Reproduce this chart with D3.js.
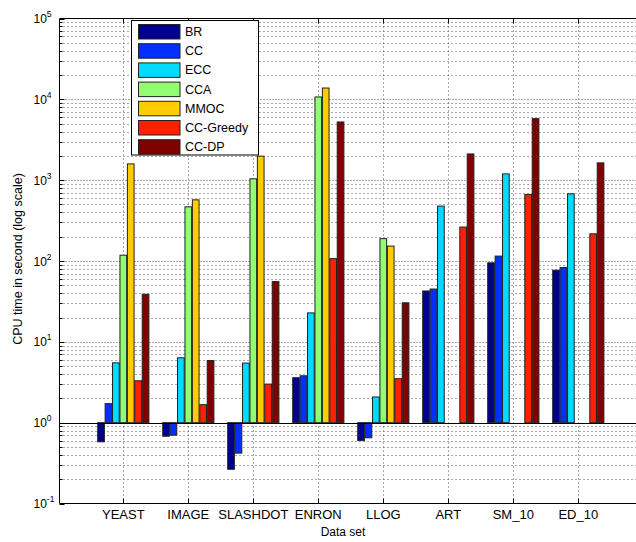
<!DOCTYPE html>
<html><head><meta charset="utf-8">
<script src="https://cdn.jsdelivr.net/npm/d3@7"></script>
<style>
html,body{margin:0;padding:0;background:#fff;}
svg{display:block;}
text{font-family:"Liberation Sans",Arial,Helvetica,sans-serif;fill:#000;}
</style></head>
<body>
<script>
const categories = ["YEAST","IMAGE","SLASHDOT","ENRON","LLOG","ART","SM_10","ED_10"];
const seriesNames = ["BR","CC","ECC","CCA","MMOC","CC-Greedy","CC-DP"];
const seriesColors = ["#00008f","#0030ff","#00dcff","#90ff70","#ffcc00","#ff2000","#800000"];
const BR       = [0.58, 0.68, 0.265, 3.6, 0.60, 42.6, 95, 77];
const CC       = [1.72, 0.70, 0.42, 3.8, 0.65, 45, 115, 83];
const ECC      = [5.5, 6.35, 5.46, 22.8, 2.08, 478, 1196, 678];
const CCA      = [118, 468, 1040, 10700, 189, null, null, null];
const MMOC     = [1590, 571, 1980, 13800, 153, null, null, null];
const CCGreedy = [3.3, 1.67, 3.0, 107, 3.5, 263, 666, 217];
const CCDP     = [38.8, 5.88, 55.6, 5250, 30.4, 2110, 5770, 1636];
const seriesValues = [BR, CC, ECC, CCA, MMOC, CCGreedy, CCDP];
const yTickExps = [-1,0,1,2,3,4,5];
const yLabel = "CPU time in second (log scale)";
const xLabel = "Data set";

(function(){
const W = 636, H = 542;
const pLeft = 59.5, pTop = 18.5, pBottom = 503.5, pRight = 643;
const svg = d3.select("body").append("svg").attr("width", W).attr("height", H);

const x = d3.scaleLinear().domain([1, 8]).range([123.3, 578.3]);
const y = d3.scaleLog().domain([0.1, 1e5]).range([pBottom, pTop]);
const inner = d3.scaleBand().domain(seriesNames).range([-25.6, 25.6]).paddingInner(0.1);

const g = svg.append("g");
svg.append("clipPath").attr("id","cp").append("rect")
  .attr("x", pLeft).attr("y", pTop).attr("width", pRight-pLeft).attr("height", pBottom-pTop);

const gridG = g.append("g").attr("clip-path","url(#cp)");
const minorVals = [];
for (let e = -1; e < 5; e++) for (let m = 2; m <= 9; m++) minorVals.push(m * Math.pow(10, e));
gridG.selectAll(".minor").data(minorVals).join("line")
  .attr("x1", pLeft).attr("x2", pRight)
  .attr("y1", d => Math.round(y(d)) + 0.5).attr("y2", d => Math.round(y(d)) + 0.5)
  .attr("stroke", "#555").attr("stroke-width", 1).attr("stroke-dasharray", "1 3");
const majorVals = yTickExps.slice(1, -1).map(e => Math.pow(10, e));
gridG.selectAll(".major").data(majorVals).join("line")
  .attr("x1", pLeft).attr("x2", pRight)
  .attr("y1", d => Math.round(y(d)) + 0.5).attr("y2", d => Math.round(y(d)) + 0.5)
  .attr("stroke", "#555").attr("stroke-width", 1).attr("stroke-dasharray", "1 2");
gridG.selectAll(".vg").data(categories).join("line")
  .attr("x1", (d,i) => Math.round(x(i+1)) + 0.5).attr("x2", (d,i) => Math.round(x(i+1)) + 0.5)
  .attr("y1", pTop).attr("y2", pBottom)
  .attr("stroke", "#555").attr("stroke-width", 1).attr("stroke-dasharray", "1 3");

const base = y(1);
const barG = g.append("g").attr("clip-path","url(#cp)");
seriesNames.forEach((s, j) => {
  const data = seriesValues[j].map((v, i) => ({v, i})).filter(d => d.v != null);
  barG.selectAll(null).data(data).join("rect")
    .attr("x", d => x(d.i + 1) + inner(s))
    .attr("width", inner.bandwidth())
    .attr("y", d => Math.min(y(d.v), base))
    .attr("height", d => Math.abs(y(d.v) - base))
    .attr("fill", seriesColors[j]).attr("stroke", "#222").attr("stroke-width", 1);
});
g.append("line").attr("x1", pLeft).attr("x2", pRight).attr("y1", Math.round(base)+0.5).attr("y2", Math.round(base)+0.5)
  .attr("stroke", "#000").attr("stroke-width", 1);

g.append("line").attr("x1", pLeft).attr("x2", pLeft).attr("y1", pTop).attr("y2", pBottom).attr("stroke","#000");
g.append("line").attr("x1", pLeft).attr("x2", pRight).attr("y1", pTop).attr("y2", pTop).attr("stroke","#000");
g.append("line").attr("x1", pLeft).attr("x2", pRight).attr("y1", pBottom).attr("y2", pBottom).attr("stroke","#000");

g.selectAll(".yt").data(yTickExps).join("line")
  .attr("x1", pLeft).attr("x2", pLeft + 5)
  .attr("y1", d => Math.round(y(Math.pow(10,d))) + 0.5).attr("y2", d => Math.round(y(Math.pow(10,d))) + 0.5)
  .attr("stroke", "#000");
g.selectAll(".ymt").data(minorVals).join("line")
  .attr("x1", pLeft).attr("x2", pLeft + 3)
  .attr("y1", d => Math.round(y(d)) + 0.5).attr("y2", d => Math.round(y(d)) + 0.5)
  .attr("stroke", "#000");
const yl = g.selectAll(".yl").data(yTickExps).join("text")
  .attr("x", 33.5).attr("y", d => y(Math.pow(10,d)) + 4.5)
  .attr("font-size", 12);
yl.append("tspan").text("10");
yl.append("tspan").attr("dy", -6).attr("font-size", 8.5).text(d => d);

g.selectAll(".xtb").data(categories).join("line")
  .attr("x1", (d,i) => Math.round(x(i+1)) + 0.5).attr("x2", (d,i) => Math.round(x(i+1)) + 0.5)
  .attr("y1", pBottom).attr("y2", pBottom - 5).attr("stroke", "#000");
g.selectAll(".xtt").data(categories).join("line")
  .attr("x1", (d,i) => Math.round(x(i+1)) + 0.5).attr("x2", (d,i) => Math.round(x(i+1)) + 0.5)
  .attr("y1", pTop).attr("y2", pTop + 5).attr("stroke", "#000");
g.selectAll(".xl").data(categories).join("text")
  .attr("x", (d,i) => x(i+1)).attr("y", 519)
  .attr("text-anchor", "middle").attr("font-size", 13).text(d => d);

svg.append("text").attr("x", 343).attr("y", 536).attr("text-anchor","middle").attr("font-size", 12).text(xLabel);
svg.append("text").attr("transform", "translate(22,259) rotate(-90)").attr("text-anchor","middle")
  .attr("font-size", 12.5).text(yLabel);

const lg = svg.append("g");
lg.append("rect").attr("x", 131.5).attr("y", 20.5).attr("width", 127).attr("height", 134.5)
  .attr("fill", "#fff").attr("stroke", "#000");
seriesNames.forEach((s, j) => {
  const cy = 31.5 + j * 19.2;
  lg.append("rect").attr("x", 138.5).attr("y", cy - 7).attr("width", 41.5).attr("height", 14.5)
    .attr("fill", seriesColors[j]).attr("stroke", "#222");
  lg.append("text").attr("x", 185).attr("y", cy + 4.5).attr("font-size", 12.5).text(s);
});
})();
</script>
</body></html>
